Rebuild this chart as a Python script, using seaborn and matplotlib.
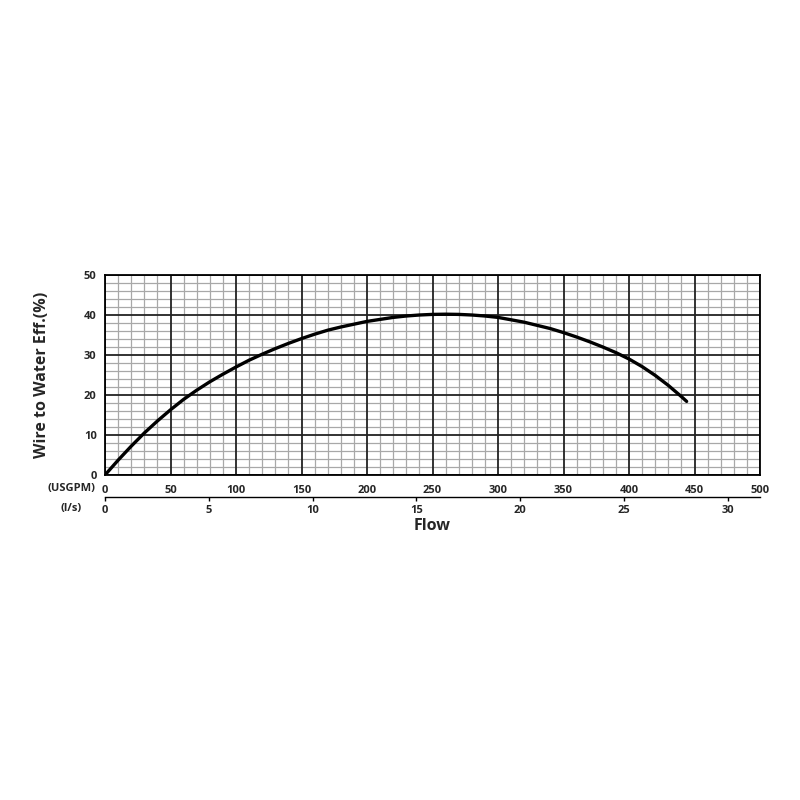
import matplotlib
matplotlib.use("Agg")
import matplotlib.pyplot as plt
from matplotlib.ticker import MultipleLocator
import seaborn as sns
import pandas as pd

sns.set_theme(style="white")
plt.rcParams["font.family"] = ["Open Sans", "DejaVu Sans"]

# flow (USGPM) vs wire-to-water efficiency (%)
flow_usgpm = [0, 10, 20, 30, 40, 50, 60, 70, 80, 90, 100, 110, 120, 130,
              140, 150, 160, 170, 180, 190, 200, 210, 220, 230, 240, 250,
              260, 270, 280, 290, 300, 310, 320, 330, 340, 350, 360, 370,
              380, 390, 400, 410, 420, 430, 440, 444]
efficiency = [0, 3.7, 7.2, 10.5, 13.5, 16.3, 18.9, 21.2, 23.3, 25.2, 27.0,
              28.7, 30.2, 31.6, 32.9, 34.1, 35.2, 36.2, 37.0, 37.7, 38.4,
              38.9, 39.4, 39.75, 40.0, 40.15, 40.2, 40.15, 40.0, 39.75, 39.4,
              38.8, 38.2, 37.4, 36.6, 35.6, 34.5, 33.3, 32.0, 30.6, 29.0,
              27.1, 24.9, 22.4, 19.6, 18.4]

usgpm_ticks = [0, 50, 100, 150, 200, 250, 300, 350, 400, 450, 500]
ls_ticks = [0, 5, 10, 15, 20, 25, 30]
eff_ticks = [0, 10, 20, 30, 40, 50]

GPM_PER_LS = 15.850323

df = pd.DataFrame({"flow": flow_usgpm, "eff": efficiency})

fig = plt.figure(figsize=(8, 8), dpi=100)
ax = fig.add_axes([105 / 800, 1 - 475 / 800, 655 / 800, 200 / 800])

sns.lineplot(data=df, x="flow", y="eff", ax=ax, color="black", linewidth=2.4, zorder=5)

ax.set_xlim(0, 500)
ax.set_ylim(0, 50)
ax.set_xticks(usgpm_ticks)
ax.set_yticks(eff_ticks)
ax.xaxis.set_minor_locator(MultipleLocator(10))
ax.yaxis.set_minor_locator(MultipleLocator(2))
ax.grid(which="minor", color="#a8a8a8", linewidth=0.9)
ax.set_axisbelow(True)
# major grid on top of the minor one
for v in usgpm_ticks:
    ax.axvline(v, color="#222222", linewidth=1.3, zorder=2)
for v in eff_ticks:
    ax.axhline(v, color="#222222", linewidth=1.3, zorder=2)
for s in ax.spines.values():
    s.set_color("black")
    s.set_linewidth(1.3)

ax.tick_params(axis="both", which="both", length=0)
ax.tick_params(axis="x", pad=7, labelsize=8)
ax.tick_params(axis="y", pad=6, labelsize=8)
for lbl in ax.get_xticklabels() + ax.get_yticklabels():
    lbl.set_fontweight("bold")

ax.set_xlabel("")
ax.set_ylabel("Wire to Water Eff.(%)", fontsize=11.5, fontweight="bold", labelpad=24)

# second flow axis in l/s
sec = ax.secondary_xaxis(-0.11, functions=(lambda x: x / GPM_PER_LS,
                                            lambda x: x * GPM_PER_LS))
sec.set_xticks(ls_ticks)
sec.spines["bottom"].set_color("black")
sec.spines["bottom"].set_linewidth(1.0)
sec.tick_params(axis="x", direction="out", length=3, width=1, color="black",
                pad=3, labelsize=8)
for lbl in sec.get_xticklabels():
    lbl.set_fontweight("bold")
sec.set_xlabel("Flow", fontsize=11.5, fontweight="bold", labelpad=1)

fig.text(71 / 800, 1 - 489 / 800, "(USGPM)", fontsize=8, fontweight="bold",
         ha="center", va="center")
fig.text(71 / 800, 1 - 508 / 800, "(l/s)", fontsize=8, fontweight="bold",
         ha="center", va="center")

fig.savefig("out.png", dpi=100, facecolor="white")
